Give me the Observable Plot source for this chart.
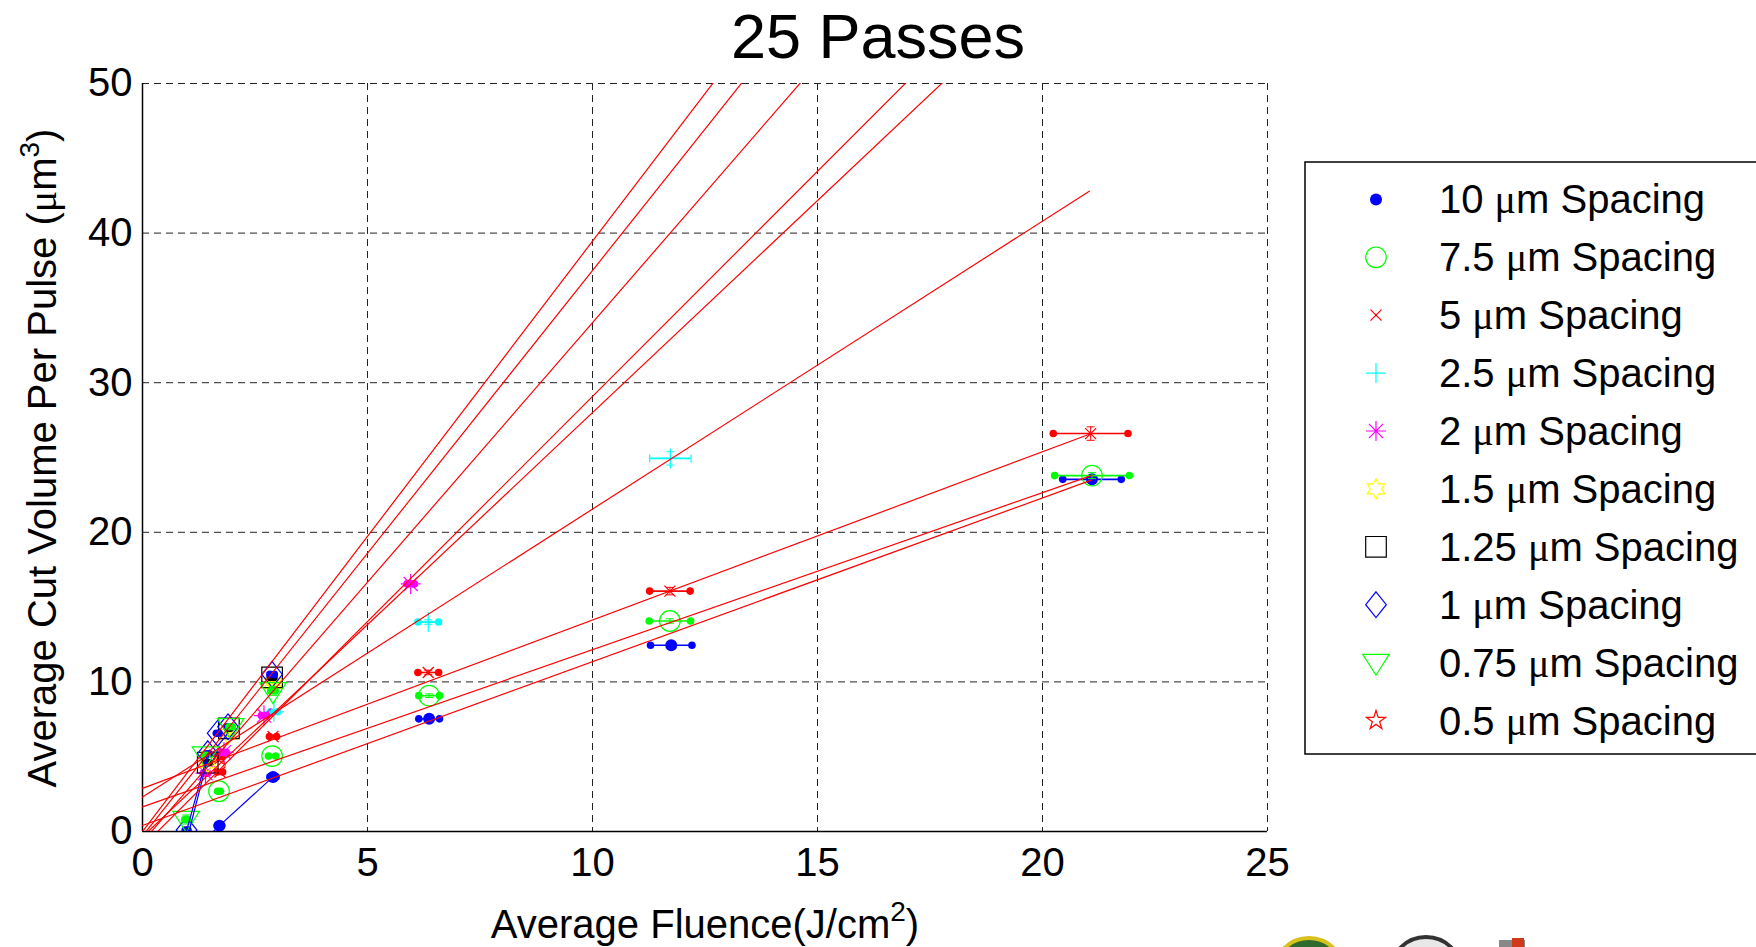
<!DOCTYPE html>
<html>
<head>
<meta charset="utf-8">
<script src="https://cdn.jsdelivr.net/npm/d3@7"></script>
<script src="https://cdn.jsdelivr.net/npm/@observablehq/plot@0.6"></script>
<style>
  html,body{margin:0;padding:0;background:#fff;}
  #chart{width:1756px;height:947px;overflow:hidden;position:relative;}
</style>
</head>
<body>
<div id="chart"></div>
<script>
// ---------------- data ----------------
const titleText = "25 Passes";
const xLabelMain = "Average Fluence(J/cm";
const yLabelMain = "Average Cut Volume Per Pulse (";
const xTicks = [0, 5, 10, 15, 20, 25];
const yTicks = [0, 10, 20, 30, 40, 50];

const spacingLabels = ["10", "7.5", "5", "2.5", "2", "1.5", "1.25", "1", "0.75", "0.5"];
const seriesColors = ["#0000ff", "#00ff00", "#ff0000", "#00ffff", "#ff00ff", "#ffff00", "#000000", "#0000ff", "#00ff00", "#ff0000"];
const seriesMarkers = ["dot", "circle", "x", "plus", "asterisk", "hexagram", "square", "diamond", "triangle", "pentagram"];

// 10 um
const fluence10 = [1.71, 2.90, 6.37, 11.75, 21.10];
const volume10 = [0.39, 3.65, 7.53, 12.45, 23.54];
const fluErr10 = [0.05, 0.07, 0.23, 0.46, 0.65];
const volErr10 = [0.05, 0.08, 0.10, 0.15, 0.20];
// 7.5 um
const fluence7p5 = [1.70, 2.88, 6.37, 11.72, 21.10];
const volume7p5 = [2.69, 5.04, 9.08, 14.07, 23.79];
const fluErr7p5 = [0.03, 0.08, 0.23, 0.46, 0.83];
const volErr7p5 = [0.05, 0.08, 0.12, 0.15, 0.20];
// 5 um
const fluence5 = [1.72, 2.90, 6.35, 11.72, 21.07];
const volume5 = [3.98, 6.35, 10.63, 16.07, 26.60];
const fluErr5 = [0.06, 0.08, 0.23, 0.45, 0.83];
const volErr5 = [0.08, 0.08, 0.15, 0.25, 0.45];
// 2.5 um
const fluence2p5 = [2.92, 6.35, 11.73];
const volume2p5 = [8.00, 14.00, 24.94];
const fluErr2p5 = [0.08, 0.23, 0.46];
const volErr2p5 = [0.08, 0.15, 0.45];
const endDots2p5 = [1, 1, 0];
// 2 um
const fluence2 = [1.40, 1.81, 2.70, 5.96];
const volume2 = [3.90, 5.30, 7.75, 16.55];
const fluErr2 = [0.05, 0.05, 0.06, 0.08];
const volErr2 = [0.08, 0.08, 0.10, 0.20];
// 1.5 um
const fluence1p5 = [1.45, 1.90, 2.90];
const volume1p5 = [4.60, 6.50, 9.90];
const fluErr1p5 = [0.04, 0.05, 0.06];
const volErr1p5 = [0.05, 0.05, 0.08];
// 1.25 um
const fluence1p25 = [1.45, 1.92, 2.88];
const volume1p25 = [4.60, 6.90, 10.30];
const fluErr1p25 = [0.03, 0.03, 0.04];
const volErr1p25 = [0.05, 0.05, 0.08];
// 1 um
const fluence1 = [0.98, 1.45, 1.67, 1.90, 2.88];
const volume1 = [0.10, 5.20, 6.57, 7.00, 10.50];
const fluErr1 = [0.03, 0.03, 0.03, 0.03, 0.05];
const volErr1 = [0.05, 0.05, 0.05, 0.05, 0.08];
// 0.75 um
const fluence0p75 = [0.97, 1.40, 1.96, 2.90];
const volume0p75 = [0.80, 5.10, 7.00, 9.40];
const fluErr0p75 = [0.03, 0.03, 0.04, 0.05];
const volErr0p75 = [0.30, 0.05, 0.05, 0.30];
// 0.5 um
const fluence0p5 = [1.70];
const volume0p5 = [5.00];
const fluErr0p5 = [0.06];
const volErr0p5 = [0.08];

// blue connecting traces
const trace10X = [1.45, 1.71, 2.90];
const trace10Y = [-0.35, 0.39, 3.65];
const trace1aX = [0.93, 1.45];
const trace1aY = [-0.50, 5.20];
const trace1bX = [0.99, 1.50];
const trace1bY = [-0.50, 5.45];

// linear fits (order: 10, 7.5, 5, 2.5, 2, 1.5, 1.25, 1, 0.75 um)
const fitSlope = [1.095, 1.05, 1.125, 1.925, 2.835, 3.01, 3.78, 3.946, 3.47];
const fitIntercept = [0.40, 1.65, 2.88, 2.30, -0.35, -1.02, -0.30, 0.00, -0.69];
const fitXEnd = [21.10, 21.10, 21.07, 21.04, 20, 20, 20, 20, 20];

// ---------------- build tables ----------------
const seriesData = [
  {x: fluence10, y: volume10, xe: fluErr10, ye: volErr10},
  {x: fluence7p5, y: volume7p5, xe: fluErr7p5, ye: volErr7p5},
  {x: fluence5, y: volume5, xe: fluErr5, ye: volErr5},
  {x: fluence2p5, y: volume2p5, xe: fluErr2p5, ye: volErr2p5, dots: endDots2p5},
  {x: fluence2, y: volume2, xe: fluErr2, ye: volErr2},
  {x: fluence1p5, y: volume1p5, xe: fluErr1p5, ye: volErr1p5},
  {x: fluence1p25, y: volume1p25, xe: fluErr1p25, ye: volErr1p25},
  {x: fluence1, y: volume1, xe: fluErr1, ye: volErr1},
  {x: fluence0p75, y: volume0p75, xe: fluErr0p75, ye: volErr0p75},
  {x: fluence0p5, y: volume0p5, xe: fluErr0p5, ye: volErr0p5}
];
const rowsBySeries = seriesData.map((s, i) => s.x.map((x, j) => ({
  s: i, x, y: s.y[j], xe: s.xe[j], ye: s.ye[j], dot: s.dots ? s.dots[j] : 1
})));

const traces = [
  ...trace10X.map((x, j) => ({t: 0, x, y: trace10Y[j]})),
  ...trace1aX.map((x, j) => ({t: 1, x, y: trace1aY[j]})),
  ...trace1bX.map((x, j) => ({t: 2, x, y: trace1bY[j]}))
];
const fitRows = fitSlope.flatMap((m, i) => [
  {f: i, x: 0, y: fitIntercept[i]},
  {f: i, x: fitXEnd[i], y: fitIntercept[i] + m * fitXEnd[i]}
]);

// ---------------- symbols ----------------
const mk = (fn) => ({draw(c, size) { const r = Math.sqrt(size / Math.PI); fn(c, r); }});
const starPath = (c, n, R, ri) => {
  for (let k = 0; k < 2 * n; k++) {
    const a = -Math.PI / 2 + k * Math.PI / n;
    const rr = k % 2 === 0 ? R : ri;
    const px = rr * Math.cos(a), py = rr * Math.sin(a);
    if (k === 0) c.moveTo(px, py); else c.lineTo(px, py);
  }
  c.closePath();
};
const SYM = {
  dot: d3.symbolCircle,
  circle: d3.symbolCircle,
  x: mk((c, r) => { c.moveTo(-r, -r); c.lineTo(r, r); c.moveTo(-r, r); c.lineTo(r, -r); }),
  plus: mk((c, r) => { c.moveTo(-r, 0); c.lineTo(r, 0); c.moveTo(0, -r); c.lineTo(0, r); }),
  asterisk: mk((c, r) => {
    const q = r * 0.707;
    c.moveTo(-r, 0); c.lineTo(r, 0); c.moveTo(0, -r); c.lineTo(0, r);
    c.moveTo(-q, -q); c.lineTo(q, q); c.moveTo(-q, q); c.lineTo(q, -q);
  }),
  hexagram: mk((c, r) => starPath(c, 6, r, r / Math.sqrt(3))),
  square: mk((c, r) => { c.rect(-r, -r, 2 * r, 2 * r); }),
  diamond: mk((c, r) => { c.moveTo(0, -1.25 * r); c.lineTo(r, 0); c.lineTo(0, 1.25 * r); c.lineTo(-r, 0); c.closePath(); }),
  triangle: mk((c, r) => { c.moveTo(-r, -0.62 * r); c.lineTo(r, -0.62 * r); c.lineTo(0, 0.95 * r); c.closePath(); }),
  pentagram: mk((c, r) => starPath(c, 5, r, r * 0.382)),
  hcap: mk((c, r) => { c.moveTo(-r, 0); c.lineTo(r, 0); }),
  vcap: mk((c, r) => { c.moveTo(0, -r); c.lineTo(0, r); })
};
const markerR = {dot: 6, circle: 10.3, x: 5.5, plus: 10, asterisk: 10, hexagram: 10, square: 10.3, diamond: 10.3, triangle: 13.3, pentagram: 10};

// ---------------- marks ----------------
const FONT = "'Liberation Sans', Arial, Helvetica, sans-serif";
const gridDash = "7,5";
const marks = [
  Plot.ruleX(xTicks.filter(d => d > 0), {stroke: "#222", strokeWidth: 1, strokeDasharray: gridDash}),
  Plot.ruleY(yTicks.filter(d => d > 0), {stroke: "#222", strokeWidth: 1, strokeDasharray: gridDash}),
  Plot.ruleX([0], {stroke: "#000", strokeWidth: 1.5}),
  Plot.ruleY([0], {stroke: "#000", strokeWidth: 1.5}),
  Plot.axisX({ticks: xTicks, tickSize: 0, tickPadding: 16, label: null, fontSize: 40, tickFormat: d => String(d)}),
  Plot.axisY({ticks: yTicks, tickSize: 0, tickPadding: 10, label: null, fontSize: 40, tickFormat: d => String(d)})
];

const drawOrder = [9, 0, 1, 2, 3, 4, 5, 6, 7, 8];
for (const i of drawOrder) {
  const data = rowsBySeries[i];
  const col = seriesColors[i];
  const mkName = seriesMarkers[i];
  marks.push(
    Plot.ruleY(data, {y: "y", x1: d => d.x - d.xe, x2: d => d.x + d.xe, stroke: col, strokeWidth: 1.6, clip: true}),
    Plot.ruleX(data, {x: "x", y1: d => d.y - d.ye, y2: d => d.y + d.ye, stroke: col, strokeWidth: 1, clip: true}),
    Plot.dot(data, {x: "x", y: d => d.y - d.ye, symbol: SYM.hcap, r: 4, stroke: col, strokeWidth: 1, clip: true}),
    Plot.dot(data, {x: "x", y: d => d.y + d.ye, symbol: SYM.hcap, r: 4, stroke: col, strokeWidth: 1, clip: true}),
    Plot.dot(data.filter(d => d.dot), {x: d => d.x - d.xe, y: "y", r: 3.8, fill: col, stroke: "none", clip: true}),
    Plot.dot(data.filter(d => d.dot), {x: d => d.x + d.xe, y: "y", r: 3.8, fill: col, stroke: "none", clip: true}),
    Plot.dot(data.filter(d => !d.dot), {x: d => d.x - d.xe, y: "y", symbol: SYM.vcap, r: 4, stroke: col, strokeWidth: 1.2, clip: true}),
    Plot.dot(data.filter(d => !d.dot), {x: d => d.x + d.xe, y: "y", symbol: SYM.vcap, r: 4, stroke: col, strokeWidth: 1.2, clip: true}),
    mkName === "dot"
      ? Plot.dot(data, {x: "x", y: "y", r: markerR.dot, fill: col, stroke: "none", clip: true})
      : Plot.dot(data, {x: "x", y: "y", symbol: SYM[mkName], r: markerR[mkName], fill: "none", stroke: col, strokeWidth: 1.2, clip: true})
  );
}

marks.push(
  Plot.line(traces, {x: "x", y: "y", z: "t", stroke: "#0000ff", strokeWidth: 1.2, clip: true}),
  Plot.line(fitRows, {x: "x", y: "y", z: "f", stroke: "#ff0000", strokeWidth: 1.2, clip: true})
);

const W = 1756, H = 947;
const chart = Plot.plot({
  width: W, height: H,
  marginLeft: 142, marginRight: 489, marginTop: 83, marginBottom: 116,
  x: {domain: [0, 25], type: "linear"},
  y: {domain: [0, 50], type: "linear"},
  style: {fontFamily: FONT, fontSize: "40px", color: "#000", background: "#fff", overflow: "visible"},
  marks
});
document.getElementById("chart").appendChild(chart);

// ---------------- titles, labels, legend ----------------
const svg = d3.select(chart);
svg.append("text").attr("x", 878).attr("y", 58).attr("text-anchor", "middle")
  .attr("font-family", FONT).attr("font-size", 63).attr("fill", "#000").text(titleText);

const xl = svg.append("text").attr("x", 705).attr("y", 938).attr("text-anchor", "middle")
  .attr("font-family", FONT).attr("font-size", 40).attr("fill", "#000");
xl.append("tspan").text(xLabelMain);
xl.append("tspan").attr("font-size", 28).attr("dy", -17).text("2");
xl.append("tspan").attr("dy", 17).text(")");

const yl = svg.append("text").attr("transform", "translate(56,458) rotate(-90)").attr("text-anchor", "middle")
  .attr("font-family", FONT).attr("font-size", 40).attr("fill", "#000");
yl.append("tspan").text(yLabelMain);
yl.append("tspan").attr("font-family", "'Liberation Serif', 'Times New Roman', serif").text("\u03bc");
yl.append("tspan").text("m");
yl.append("tspan").attr("font-size", 28).attr("dy", -17).text("3");
yl.append("tspan").attr("dy", 17).text(")");

// legend
const lg = svg.append("g").attr("text-anchor", "start");
lg.append("rect").attr("x", 1305).attr("y", 162).attr("width", 460).attr("height", 592)
  .attr("fill", "#fff").attr("stroke", "#000").attr("stroke-width", 1.5);
spacingLabels.forEach((lab, i) => {
  const cy = 199.4 + i * 57.9;
  const m = seriesMarkers[i];
  const r = markerR[m];
  lg.append("path")
    .attr("d", d3.symbol(SYM[m], r * r * Math.PI)())
    .attr("transform", `translate(1376,${cy})`)
    .attr("fill", m === "dot" ? seriesColors[i] : "none")
    .attr("stroke", m === "dot" ? "none" : seriesColors[i])
    .attr("stroke-width", 1.2);
  const t = lg.append("text").attr("x", 1439).attr("y", cy + 14).attr("text-anchor", "start")
    .attr("font-family", FONT).attr("font-size", 40).attr("fill", "#000");
  t.append("tspan").text(lab + " ");
  t.append("tspan").attr("font-family", "'Liberation Serif', 'Times New Roman', serif").text("\u03bc");
  t.append("tspan").text("m Spacing");
});

// partial logos at the bottom edge
const logos = svg.append("g");
logos.append("circle").attr("cx", 1309).attr("cy", 973).attr("r", 35).attr("fill", "#2f6b2f").attr("stroke", "#d6c21a").attr("stroke-width", 4);
logos.append("circle").attr("cx", 1426).attr("cy", 973).attr("r", 36).attr("fill", "#e8e8e8").attr("stroke", "#333").attr("stroke-width", 4);
logos.append("rect").attr("x", 1499).attr("y", 940).attr("width", 26).attr("height", 20).attr("fill", "#888");
logos.append("rect").attr("x", 1512).attr("y", 938).attr("width", 12).attr("height", 10).attr("fill", "#d03a1a");
</script>
</body>
</html>
